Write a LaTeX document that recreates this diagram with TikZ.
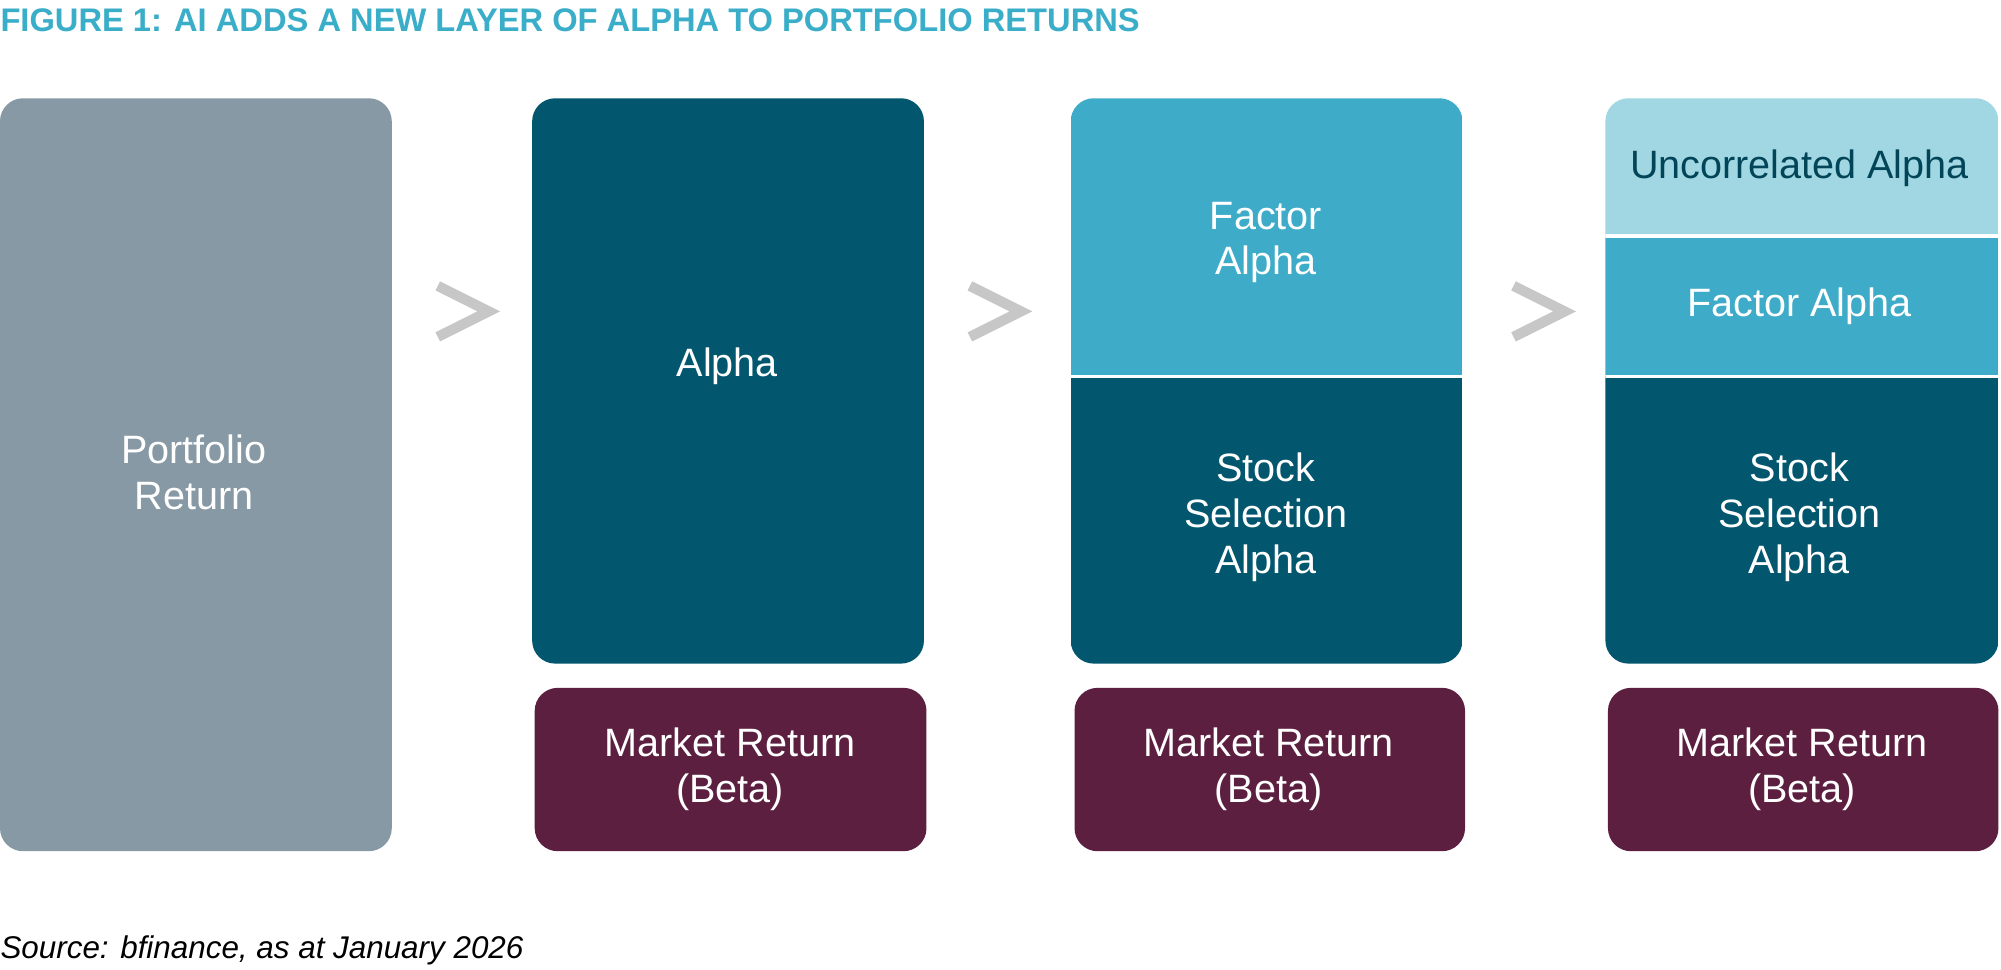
\documentclass[tikz,border=0pt]{standalone}
\usepackage{fontspec}
\setmainfont{Liberation Sans}
\begin{document}
\begin{tikzpicture}[x=0.5pt,y=-0.5pt,
  lbl/.style={text=white,font=\fontsize{15.5}{18}\selectfont,align=center},
  chev/.style={draw=black!22,line width=4pt,line cap=butt,line join=miter},
  rc/.style={rounded corners=9pt}]
\definecolor{gr}{HTML}{8799A4}
\definecolor{dt}{HTML}{02566E}
\definecolor{lb}{HTML}{3EACC8}
\definecolor{vl}{HTML}{A0D7E2}
\definecolor{mr}{HTML}{5C1F40}
\definecolor{tt}{HTML}{3AADC8}
\useasboundingbox (0,0) rectangle (1568,760);
\node[anchor=west,inner sep=0,text=tt,font=\bfseries\fontsize{12.8}{14}\selectfont] (title) at (0,16) {FIGURE 1: AI ADDS A NEW LAYER OF ALPHA TO PORTFOLIO RETURNS};
% column 1
\fill[gr,rc] (0,77) rectangle (307,667);
\node[lbl] (pr) at (152,370) {Portfolio\\Return};
% column 2
\fill[dt,rc] (417,77) rectangle (724,520);
\node[lbl] (a2) at (570,287) {Alpha};
\fill[mr,rc] (419,539) rectangle (726,667);
\node[lbl] (m2) at (572,603) {Market Return\\(Beta)};
% column 3
\begin{scope}
\clip[rc] (839,77) rectangle (1146,520);
\fill[lb] (839,77) rectangle (1146,295);
\fill[dt] (839,295) rectangle (1146,520);
\draw[white,line width=1.5pt] (839,295) -- (1146,295);
\end{scope}
\node[lbl] (f3) at (992,190) {Factor\\Alpha};
\node[lbl] (s3) at (992,405) {Stock\\Selection\\Alpha};
\fill[mr,rc] (842,539) rectangle (1148,667);
\node[lbl] (m3) at (994,603) {Market Return\\(Beta)};
% column 4
\begin{scope}
\clip[rc] (1258,77) rectangle (1566,520);
\fill[vl] (1258,77) rectangle (1566,185);
\fill[lb] (1258,185) rectangle (1566,295);
\fill[dt] (1258,295) rectangle (1566,520);
\draw[white,line width=1.5pt] (1258,185) -- (1566,185);
\draw[white,line width=1.5pt] (1258,295) -- (1566,295);
\end{scope}
\node[lbl,text=dt!80!black] (u4) at (1410,132) {Uncorrelated Alpha};
\node[lbl] (f4) at (1410,240) {Factor Alpha};
\node[lbl] (s4) at (1410,405) {Stock\\Selection\\Alpha};
\fill[mr,rc] (1260,539) rectangle (1566,667);
\node[lbl] (m4) at (1412,603) {Market Return\\(Beta)};
% chevrons
\draw[chev] (343,224) -- (383,244) -- (343,264);
\draw[chev] (760,224) -- (800,244) -- (760,264);
\draw[chev] (1186,224) -- (1226,244) -- (1186,264);
\node[anchor=west,inner sep=0,font=\itshape\fontsize{12.3}{14}\selectfont] (src) at (0,745) {Source: bfinance, as at January 2026};
\end{tikzpicture}
\end{document}
